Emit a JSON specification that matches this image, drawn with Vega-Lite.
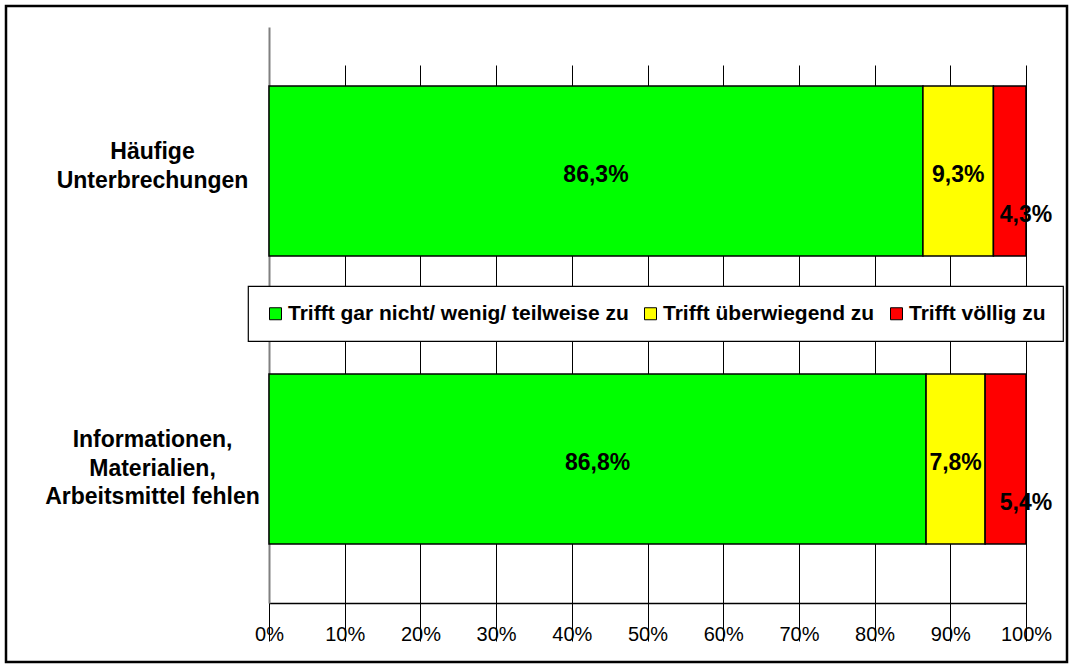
{
  "$schema": "https://vega.github.io/schema/vega-lite/v6.json",
  "autosize": {"type": "none"},
  "padding": {"left": 6, "top": 6, "right": 5, "bottom": 4},
  "width": 1061,
  "height": 656,
  "background": "white",
  "config": {
    "font": "Liberation Sans",
    "locale": {"number": {"decimal": ",", "thousands": ".", "grouping": [3], "currency": ["", " €"]}},
    "view": {"stroke": "#000", "strokeWidth": 2.5, "fill": "white"}
  },
  "data": {"values": [
    {"kategorie": "Häufige Unterbrechungen", "antwort": "Trifft gar nicht/ wenig/ teilweise zu", "k": 1, "anteil": 0.863},
    {"kategorie": "Häufige Unterbrechungen", "antwort": "Trifft überwiegend zu", "k": 2, "anteil": 0.093},
    {"kategorie": "Häufige Unterbrechungen", "antwort": "Trifft völlig zu", "k": 3, "anteil": 0.043},
    {"kategorie": "Informationen, Materialien, Arbeitsmittel fehlen", "antwort": "Trifft gar nicht/ wenig/ teilweise zu", "k": 1, "anteil": 0.868},
    {"kategorie": "Informationen, Materialien, Arbeitsmittel fehlen", "antwort": "Trifft überwiegend zu", "k": 2, "anteil": 0.078},
    {"kategorie": "Informationen, Materialien, Arbeitsmittel fehlen", "antwort": "Trifft völlig zu", "k": 3, "anteil": 0.054}
  ]},
  "encoding": {
    "y": {
      "field": "kategorie",
      "type": "nominal",
      "sort": ["Häufige Unterbrechungen", "Informationen, Materialien, Arbeitsmittel fehlen"],
      "scale": {"range": [21, 597], "paddingInner": 0.41, "paddingOuter": 0.205},
      "axis": {
        "orient": "left",
        "offset": -263,
        "title": null,
        "ticks": false,
        "grid": false,
        "domainColor": "#808080",
        "domainWidth": 2,
        "labelFontSize": 23,
        "labelFontWeight": "bold",
        "labelColor": "#000",
        "labelAlign": "center",
        "labelBaseline": "middle",
        "labelPadding": 117,
        "labelLineHeight": 28.5,
        "labelLimit": 0,
        "labelOffset": -19,
        "labelExpr": "datum.value == 'Häufige Unterbrechungen' ? ['Häufige', 'Unterbrechungen'] : ['Informationen,', 'Materialien,', 'Arbeitsmittel fehlen']"
      }
    }
  },
  "layer": [
    {
      "mark": {"type": "bar", "stroke": "#000", "strokeWidth": 1.5},
      "encoding": {
        "x": {
          "field": "anteil",
          "type": "quantitative",
          "stack": "normalize",
          "title": null,
          "scale": {"domain": [0, 1], "range": [263, 1020], "nice": false},
          "axis": {
            "orient": "bottom",
            "offset": -59,
            "title": null,
            "format": ".0%",
            "values": [0, 0.1, 0.2, 0.3, 0.4, 0.5, 0.6, 0.7, 0.8, 0.9, 1],
            "tickSize": 6,
            "tickColor": "#000",
            "domainColor": "#000",
            "domainWidth": 1.3,
            "labelFontSize": 20,
            "labelColor": "#000",
            "labelPadding": 15,
            "labelFlush": false,
            "labelOverlap": false,
            "grid": true,
            "gridColor": "#000",
            "gridWidth": 1,
            "gridOpacity": 1
          }
        },
        "color": {
          "field": "antwort",
          "type": "nominal",
          "scale": {
            "domain": ["Trifft gar nicht/ wenig/ teilweise zu", "Trifft überwiegend zu", "Trifft völlig zu"],
            "range": ["#00FF00", "#FFFF00", "#FF0000"]
          },
          "legend": {
            "orient": "none",
            "legendX": 242,
            "legendY": 280,
            "direction": "horizontal",
            "title": null,
            "symbolType": "square",
            "symbolSize": 144,
            "symbolStrokeColor": "#000",
            "symbolStrokeWidth": 1,
            "symbolOpacity": 1,
            "labelFontSize": 21,
            "labelFontWeight": "bold",
            "labelColor": "#000",
            "labelLimit": 0,
            "labelOffset": 2,
            "columnPadding": 11,
            "padding": 17,
            "fillColor": "#fff",
            "strokeColor": "#000",
            "cornerRadius": 0,
            "encode": {"legend": {"update": {"strokeWidth": {"value": 1.2}}}}
          }
        },
        "order": {"field": "k", "type": "quantitative"}
      }
    },
    {
      "mark": {"type": "text", "fontSize": 23, "fontWeight": "bold", "color": "#000", "baseline": "middle", "align": "center", "dy": 4},
      "encoding": {
        "x": {"field": "anteil", "type": "quantitative", "stack": "normalize", "bandPosition": 0.5, "title": null},
        "detail": {"field": "antwort", "type": "nominal"},
        "order": {"field": "k", "type": "quantitative"},
        "text": {"condition": {"test": "datum.k < 3", "field": "anteil", "type": "quantitative", "format": ".1%"}, "value": ""}
      }
    },
    {
      "mark": {"type": "text", "fontSize": 23, "fontWeight": "bold", "color": "#000", "baseline": "middle", "align": "center", "dy": 44},
      "encoding": {
        "x": {"field": "anteil", "type": "quantitative", "stack": "normalize", "bandPosition": 1, "title": null},
        "detail": {"field": "antwort", "type": "nominal"},
        "order": {"field": "k", "type": "quantitative"},
        "text": {"condition": {"test": "datum.k == 3", "field": "anteil", "type": "quantitative", "format": ".1%"}, "value": ""}
      }
    }
  ]
}
